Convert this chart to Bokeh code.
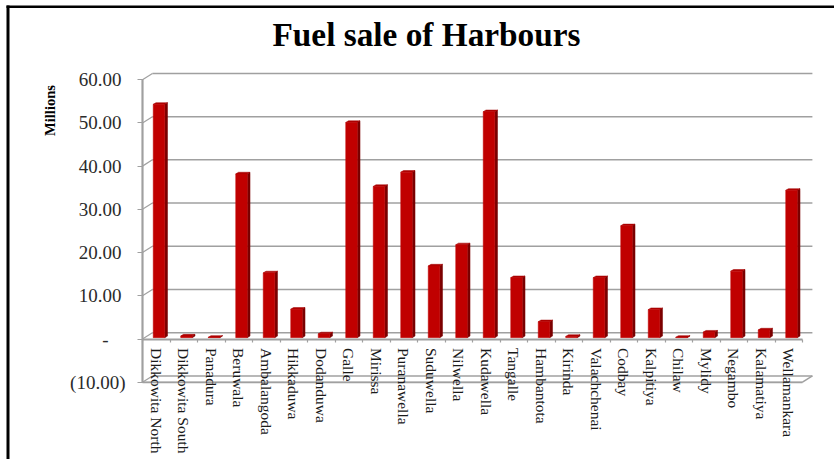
from bokeh.plotting import figure
from bokeh.models import LinearAxis, FixedTicker, Range1d, Label
from bokeh.embed import file_html
from bokeh.resources import INLINE

harbours = ["Dikkowita North", "Dikkowita South", "Panadura", "Beruwala", "Ambalangoda", "Hikkaduwa",
            "Dodanduwa", "Galle", "Mirissa", "Puranawella", "Suduwella", "Nilwella", "Kudawella",
            "Tangalle", "Hambantota", "Kirinda", "Valachchenai", "Codbay", "Kalpitiya", "Chilaw",
            "Mylidy", "Negambo", "Kalamatiya", "Wellamankara"]
fuel_sale = [54.0, 0.4, 0.1, 37.9, 15.0, 6.6, 0.9, 49.8, 35.0, 38.3, 16.6, 21.5, 52.3,
             13.9, 3.7, 0.3, 13.9, 25.9, 6.5, 0.1, 1.3, 15.4, 1.8, 34.1]
y_ticks = [-10, 0, 10, 20, 30, 40, 50, 60]
y_labels = ["(10.00)", "-", "10.00", "20.00", "30.00", "40.00", "50.00", "60.00"]

W, H = 834, 459
PX_X, PX_Y = 27.5, 4.322     # pixels per category, pixels per unit
X0, Y0 = 142, 338.5          # canvas position of the data origin
def dx(px): return (px - X0) / PX_X
def dy(px): return (Y0 - px) / PX_Y

GRID = "#a0a0a0"
SERIF = "Liberation Serif"
DX, DY = 0.36, 1.45          # depth of the 3-D box, in data units
B0, B1 = 0.39, 0.81          # bar front within its category
BD, BH = 0.10, 0.38          # bar depth
BASE = 0.3                   # bars stand a little behind the front edge
n = len(harbours)

p = figure(width=W, height=H, output_backend="svg", toolbar_location=None,
           x_axis_type=None, y_axis_type=None,
           x_range=Range1d(dx(0), dx(W)), y_range=Range1d(dy(H), dy(0)),
           min_border=0, outline_line_color=None, background_fill_color="white", border_fill_color="white")
p.styles = {"position": "absolute", "left": "0", "top": "0"}
p.grid.visible = False

# page frame, top and left
p.quad(left=[dx(6), dx(6)], right=[dx(9), dx(W)], top=[dy(5), dy(5)], bottom=[dy(H), dy(7.5)],
       fill_color="black", line_color=None)

# back wall lines, floor and the small diagonals of the 3-D box
p.segment([DX] * len(y_ticks), [v + DY for v in y_ticks], [n + DX] * len(y_ticks), [v + DY for v in y_ticks],
          line_color=GRID, line_width=1.5)
p.segment([0] * len(y_ticks), y_ticks, [DX] * len(y_ticks), [v + DY for v in y_ticks],
          line_color=GRID, line_width=1.2)
p.segment([0, n], [-10, -10], [n, n + DX], [-10, -10 + DY], line_color=GRID, line_width=1.5)

# bars: side, top, front
side_x, side_y, top_x, top_y = [], [], [], []
for i, v in enumerate(fuel_sale):
    x1, x0 = i + B1, i + B0
    y0, y1 = BASE, v + BASE
    side_x.append([x1, x1 + BD, x1 + BD, x1])
    side_y.append([y0, y0 + BH, y1 + BH, y1])
    top_x.append([x0, x0 + BD, x1 + BD, x1])
    top_y.append([y1, y1 + BH, y1 + BH, y1])
p.patches(side_x, side_y, fill_color="#7a0000", line_color="#7a0000", line_width=0.5)
p.patches(top_x, top_y, fill_color="#b00000", line_color="#a00000", line_width=0.5)
p.quad(left=[i + B0 for i in range(n)], right=[i + B1 for i in range(n)],
       bottom=[BASE] * n, top=[v + BASE for v in fuel_sale],
       fill_color="#c00000", line_color="#c00000", line_width=0.5)

# value axes: the accounting format of the labels shifts them differently
for ticks, standoff in (([t for t in y_ticks if t > 0], 16), ([0], 29), ([-10], 12)):
    ax = LinearAxis(ticker=FixedTicker(ticks=ticks), fixed_location=0, bounds=(-10, 60),
                    major_label_overrides={t: y_labels[y_ticks.index(t)] for t in ticks},
                    major_label_standoff=standoff, major_label_text_font=SERIF,
                    major_label_text_font_size="19px", major_label_text_color="#2b2b2b",
                    axis_line_color=GRID, axis_line_width=1.5,
                    major_tick_line_color=GRID, major_tick_line_width=1.2,
                    major_tick_out=5, major_tick_in=0, minor_tick_line_color=None)
    p.add_layout(ax, "left")

# category axes: boundaries get ticks, centres get names
bounds_axis = LinearAxis(ticker=FixedTicker(ticks=list(range(n + 1))), fixed_location=0, bounds=(0, n),
                         major_label_text_color=None, axis_line_color=GRID, axis_line_width=2,
                         major_tick_line_color=GRID, major_tick_line_width=1.2,
                         major_tick_out=3, major_tick_in=0, minor_tick_line_color=None)
p.add_layout(bounds_axis, "below")
floor_axis = LinearAxis(ticker=FixedTicker(ticks=[]), fixed_location=-10, bounds=(0, n),
                        axis_line_color=GRID, axis_line_width=1.5,
                        major_tick_line_color=None, minor_tick_line_color=None)
p.add_layout(floor_axis, "below")
names_axis = LinearAxis(ticker=FixedTicker(ticks=[i + 0.5 for i in range(n)]), fixed_location=0,
                        major_label_overrides={i + 0.5: h for i, h in enumerate(harbours)},
                        major_label_orientation="vertical", major_label_standoff=3,
                        major_label_text_font=SERIF, major_label_text_font_size="15.5px",
                        major_label_text_color="#1a1a1a", axis_line_color=None,
                        major_tick_line_color=None, minor_tick_line_color=None)
p.add_layout(names_axis, "below")

p.add_layout(Label(x=dx(49), y=dy(110), text="Millions", angle=90, angle_units="deg",
                   text_font=SERIF, text_font_size="14.6px", text_font_style="bold",
                   text_align="center", text_baseline="middle", text_color="#000000"))
p.add_layout(Label(x=dx(426), y=dy(34), text="Fuel sale of Harbours",
                   text_font=SERIF, text_font_size="33.3px", text_font_style="bold",
                   text_align="center", text_baseline="middle", text_color="#000000"))

open("out.html", "w").write(file_html(p, INLINE))
